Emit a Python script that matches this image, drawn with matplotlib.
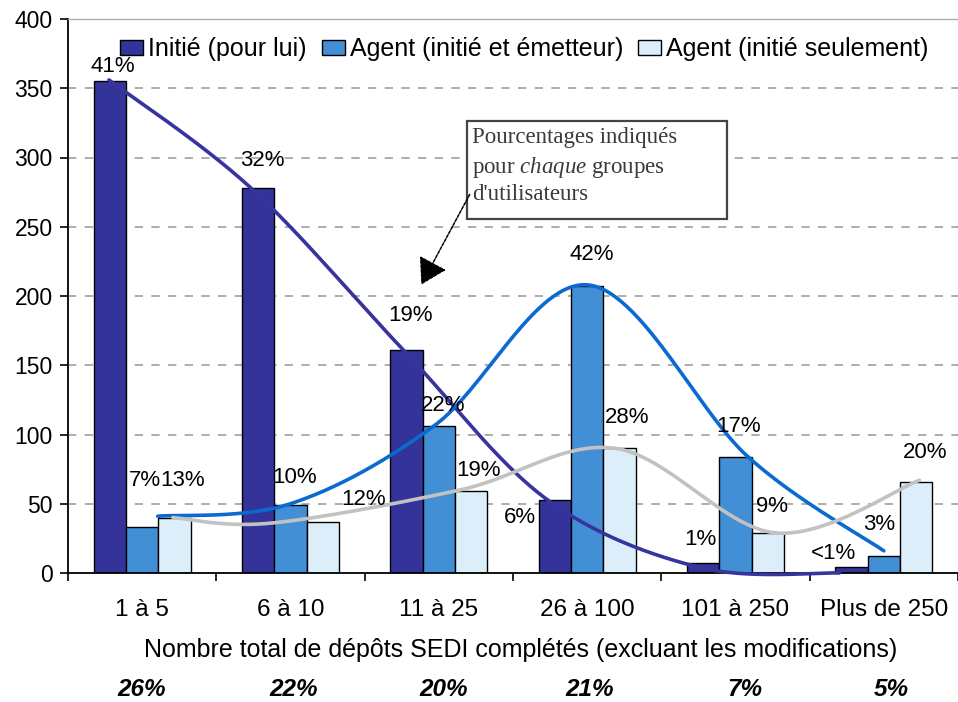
import numpy as np
import matplotlib
matplotlib.use("Agg")
import matplotlib.pyplot as plt
from matplotlib.patches import Rectangle, FancyArrowPatch

# ---------------- data ----------------
categories = ["1 à 5", "6 à 10", "11 à 25", "26 à 100", "101 à 250", "Plus de 250"]
series_names = ["Initié (pour lui)", "Agent (initié et émetteur)", "Agent (initié seulement)"]
initie = [355, 278, 161, 53, 7, 4]
agent_ie = [33, 49, 106, 207, 84, 12]
agent_is = [40, 37, 59, 90, 29, 66]
pct_initie = ["41%", "32%", "19%", "6%", "1%", "<1%"]
pct_agent_ie = ["7%", "10%", "22%", "42%", "17%", "3%"]
pct_agent_is = ["13%", "12%", "19%", "28%", "9%", "20%"]
group_share = ["26%", "22%", "20%", "21%", "7%", "5%"]

# hand-drawn smoothed trend curves (knots: x in category units, value)
curve_initie_x = [-0.224, 0.733, 1.761, 2.73, 3.76, 4.70]
curve_initie_y = [356, 278, 161, 53, 4, 0]
curve_ie_x = [0.105, 1.0, 1.977, 3.007, 4.083, 5.0]
curve_ie_y = [41, 50, 107, 208, 84, 16]
curve_is_x = [0.207, 0.867, 2.145, 3.19, 4.265, 5.24]
curve_is_y = [40, 36, 60, 90, 29, 67]

# label positions (x in category units, y in value units)
lab_initie_pos = [(-0.196, 366), (0.813, 298), (1.81, 186), (2.55, 40), (3.76, 24), (4.66, 14)]
lab_ie_pos = [(0.02, 67), (1.03, 69), (2.03, 121), (3.033, 230), (4.02, 106), (4.97, 35)]
lab_is_pos = [(0.27, 67), (1.49, 53), (2.27, 74), (3.27, 112), (4.245, 48), (5.28, 87)]
share_x = [0.0, 0.02, 0.03, 0.02, 0.06, 0.05]

colors = ["#333399", "#428FD5", "#DDEEFB"]
curve_colors = ["#38349E", "#0A6AD0", "#C2C2C2"]

# ---------------- helpers ----------------
def catmull_rom(xs, ys, n=60):
    P = np.column_stack([xs, ys]).astype(float)
    P = np.vstack([P[0], P, P[-1]])
    out = []
    t = np.linspace(0, 1, n)[:, None]
    for i in range(1, len(P) - 2):
        p0, p1, p2, p3 = P[i - 1], P[i], P[i + 1], P[i + 2]
        seg = 0.5 * ((2 * p1) + (-p0 + p2) * t + (2 * p0 - 5 * p1 + 4 * p2 - p3) * t ** 2
                     + (-p0 + 3 * p1 - 3 * p2 + p3) * t ** 3)
        out.append(seg)
    c = np.vstack(out)
    return c[:, 0], c[:, 1]

# ---------------- figure ----------------
plt.rcParams['font.family'] = ['Liberation Sans', 'DejaVu Sans']
plt.rcParams['mathtext.fontset'] = 'custom'
plt.rcParams['mathtext.rm'] = 'Liberation Serif'
plt.rcParams['mathtext.it'] = 'Liberation Serif:italic'

W, H = 958, 702
AX_L, AX_R, AX_T, AX_B = 68, 958, 19, 573
fig = plt.figure(figsize=(W / 100, H / 100), dpi=100)
ax = fig.add_axes([AX_L / W, 1 - AX_B / H, (AX_R - AX_L) / W, (AX_B - AX_T) / H])

def px2data(px, py):
    return (-0.5 + (px - AX_L) / (AX_R - AX_L) * 6.0,
            (AX_B - py) / (AX_B - AX_T) * 400.0)

x = np.arange(len(categories))
w = 0.218
for k, (vals, col) in enumerate(zip([initie, agent_ie, agent_is], colors)):
    ax.bar(x + (k - 1) * w, vals, width=w, color=col, edgecolor="black",
           linewidth=1.0, zorder=2, label=series_names[k])

for cx, cy, col in [(curve_initie_x, curve_initie_y, curve_colors[0]),
                    (curve_ie_x, curve_ie_y, curve_colors[1]),
                    (curve_is_x, curve_is_y, curve_colors[2])]:
    sx, sy = catmull_rom(cx, cy)
    ax.plot(sx, sy, color=col, lw=2.6, zorder=3, solid_capstyle="round", clip_on=False)

for labels, pos in [(pct_initie, lab_initie_pos), (pct_agent_ie, lab_ie_pos), (pct_agent_is, lab_is_pos)]:
    for t, (px, py) in zip(labels, pos):
        ax.text(px, py, t, ha="center", va="center", fontsize=16, color="black", zorder=5)

ax.set_xlim(-0.5, 5.5)
ax.set_ylim(0, 400)
ax.set_yticks(np.arange(0, 401, 50))
ax.set_xticks(x)
ax.set_xticklabels(categories, fontsize=17.5)
ax.set_xticks(np.arange(-0.5, 6.0, 1.0), minor=True)
ax.tick_params(axis="x", which="major", length=0, pad=19)
ax.tick_params(axis="x", which="minor", length=6, width=1.2, direction="out")
ax.tick_params(axis="y", length=6, width=1.2, direction="out", labelsize=16.5, pad=5)

for yv in range(50, 400, 50):
    ax.axhline(yv, color="#A0A0A0", lw=1.2, ls=(0, (5, 5)), zorder=1)

ax.spines["left"].set_linewidth(1.3)
ax.spines["bottom"].set_linewidth(1.3)
ax.spines["right"].set_visible(False)
ax.spines["top"].set_color("#B0B0B0")
ax.spines["top"].set_linewidth(1.0)

ax.set_xlabel("Nombre total de dépôts SEDI complétés (excluant les modifications)", fontsize=18)
ax.xaxis.set_label_coords((521 - AX_L) / (AX_R - AX_L), (AX_B - 650) / (AX_B - AX_T))
ax.xaxis.label.set_va("center")

for xi, dx, s in zip(x, share_x, group_share):
    ax.text(xi + dx, (AX_B - 690) / (AX_B - AX_T), s, transform=ax.get_xaxis_transform(),
            ha="center", va="center", fontsize=17.5, fontweight="bold", fontstyle="italic")

ax.legend(loc="center left", bbox_to_anchor=((120 - AX_L) / (AX_R - AX_L), (AX_B - 49) / (AX_B - AX_T)),
          ncol=3, frameon=False, fontsize=18, handlelength=0.92, handleheight=0.56,
          handletextpad=0.2, columnspacing=0.6, borderaxespad=0, borderpad=0)

# callout box
bx0, by1 = px2data(467, 121)
bx1, by0 = px2data(727, 219)
ax.add_patch(Rectangle((bx0, by0), bx1 - bx0, by1 - by0, facecolor="white",
                       edgecolor="#444444", lw=1.6, zorder=6))
for txt, py in [("Pourcentages indiqués", 137), (r"pour $\it{chaque}$ groupes", 167), ("d'utilisateurs", 195)]:
    tx, ty = px2data(472, py)
    ax.text(tx, ty, txt, family=["Liberation Serif"], fontsize=16.5, ha="left", va="center",
            color="#3A3A3A", zorder=7)
a0 = px2data(471, 192)
a1 = px2data(420, 287)
arr = FancyArrowPatch(a0, a1, arrowstyle="-|>,head_length=10,head_width=6", color="black",
                      lw=1.1, ls=(0, (2, 1)), zorder=7, mutation_scale=1.6)
ax.add_patch(arr)

fig.savefig("out.png", dpi=100)
